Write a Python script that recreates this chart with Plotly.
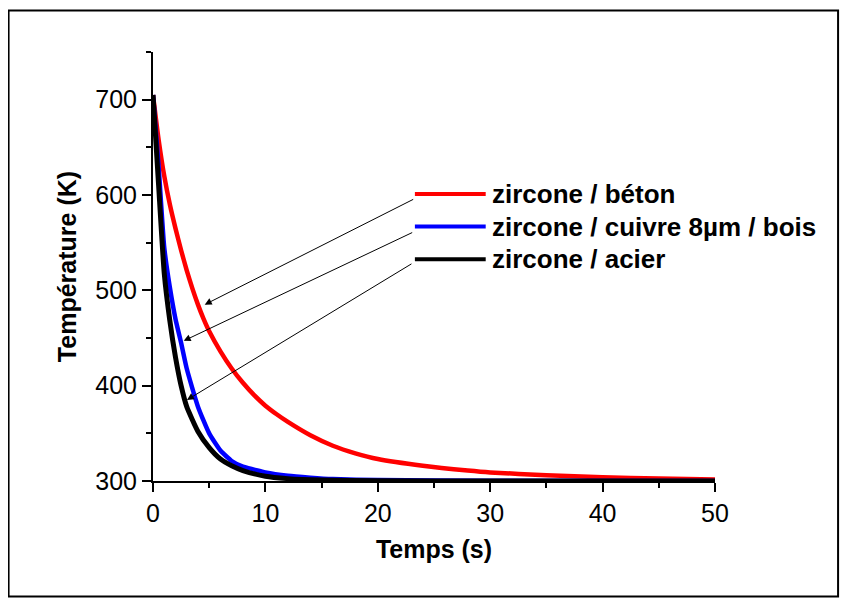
# Refroidissement : température de surface en fonction du temps
import plotly.graph_objects as go

# Données
t_beton = [0, 0.5, 1, 1.5, 2, 2.5, 3, 3.5, 4, 4.5, 5, 6, 7, 8, 9, 10, 11, 12, 14, 16, 18, 20, 24, 28, 30, 35, 40, 45, 50]
T_beton = [705, 658, 620, 590, 565, 542, 521, 502, 485, 470, 457, 436, 418, 403, 390, 379, 370, 362, 348, 337, 329, 323, 316, 311, 309, 306, 304, 302.5, 301.5]

t_cuivre = [0, 0.5, 1, 1.5, 2, 2.5, 3, 4, 5, 6, 7, 8, 9, 10, 12, 14, 16, 20, 30, 50]
T_cuivre = [705, 630, 545, 503, 470, 445, 418, 378, 350, 332, 321, 315, 312, 309, 305.5, 303.5, 302, 301, 300.3, 300]

t_acier = [0, 0.5, 1, 1.5, 2, 2.5, 3, 4, 5, 6, 7, 8, 10, 12, 15, 20, 30, 50]
T_acier = [705, 610, 518, 468, 430, 400, 378, 352, 335, 323, 316, 311, 305, 302.5, 301, 300.3, 300, 300]

labels = ["zircone / béton", "zircone / cuivre 8µm / bois", "zircone / acier"]
colors = ["#ff0000", "#0000ff", "#000000"]

FONT = "Liberation Sans, Arial, sans-serif"

fig = go.Figure()
series = [(t_beton, T_beton), (t_cuivre, T_cuivre), (t_acier, T_acier)]
widths = [4.5, 4.5, 5]
for (t, T), c, w, name in zip(series, colors, widths, labels):
    fig.add_trace(go.Scatter(x=t, y=T, mode="lines", name=name,
                             line=dict(color=c, width=w, shape="spline", smoothing=0.5),
                             showlegend=False))

# Légende dessinée à la main (trait long + texte gras)
leg_y = [0.669, 0.593, 0.517]
for y, c, name in zip(leg_y, colors, labels):
    fig.add_shape(type="line", xref="paper", yref="paper",
                  x0=0.466, x1=0.592, y0=y, y1=y,
                  line=dict(color=c, width=4))
    fig.add_annotation(xref="paper", yref="paper", x=0.600, y=y,
                       text=f"<b>{name}</b>", showarrow=False,
                       xanchor="left", yanchor="middle",
                       font=dict(family=FONT, size=26, color="black"))

# Flèches de la légende vers les courbes
arrows = [(4.6, 485, 210, -106), (2.73, 447, 230, -109), (3.02, 385, 226, -137)]
for x, y, ax, ay in arrows:
    fig.add_annotation(x=x, y=y, ax=ax, ay=ay, text="", showarrow=True,
                       arrowhead=2, arrowsize=1.4, arrowwidth=1,
                       arrowcolor="black", standoff=0, startstandoff=0)

# Cadre extérieur
fig.add_shape(type="rect", xref="paper", yref="paper",
              x0=-0.257, x1=1.219, y0=-0.269, y1=1.097,
              line=dict(color="black", width=2))

fig.update_layout(
    width=848,
    height=610,
    margin=dict(l=145, r=141, t=44, b=137),
    paper_bgcolor="white",
    plot_bgcolor="white",
    font=dict(family=FONT, size=25, color="black"),
    xaxis=dict(
        range=[0, 50],
        tickvals=[0, 10, 20, 30, 40, 50],
        ticks="outside", ticklen=9, tickwidth=2, tickcolor="black",
        minor=dict(dtick=5, ticks="outside", ticklen=5, tickwidth=2, tickcolor="black"),
        showline=True, linewidth=2, linecolor="black",
        showgrid=False, zeroline=False,
        tickfont=dict(size=25),
        title=dict(text="<b>Temps (s)</b>", font=dict(size=25), standoff=14),
    ),
    yaxis=dict(
        range=[300, 750],
        tickvals=[300, 400, 500, 600, 700],
        ticks="outside", ticklen=9, tickwidth=2, tickcolor="black",
        minor=dict(dtick=50, ticks="outside", ticklen=5, tickwidth=2, tickcolor="black"),
        showline=True, linewidth=2, linecolor="black",
        showgrid=False, zeroline=False,
        tickfont=dict(size=25),
        title=dict(text="<b>Température (K)</b>", font=dict(size=25), standoff=12),
    ),
)

fig.write_html("out.html")
